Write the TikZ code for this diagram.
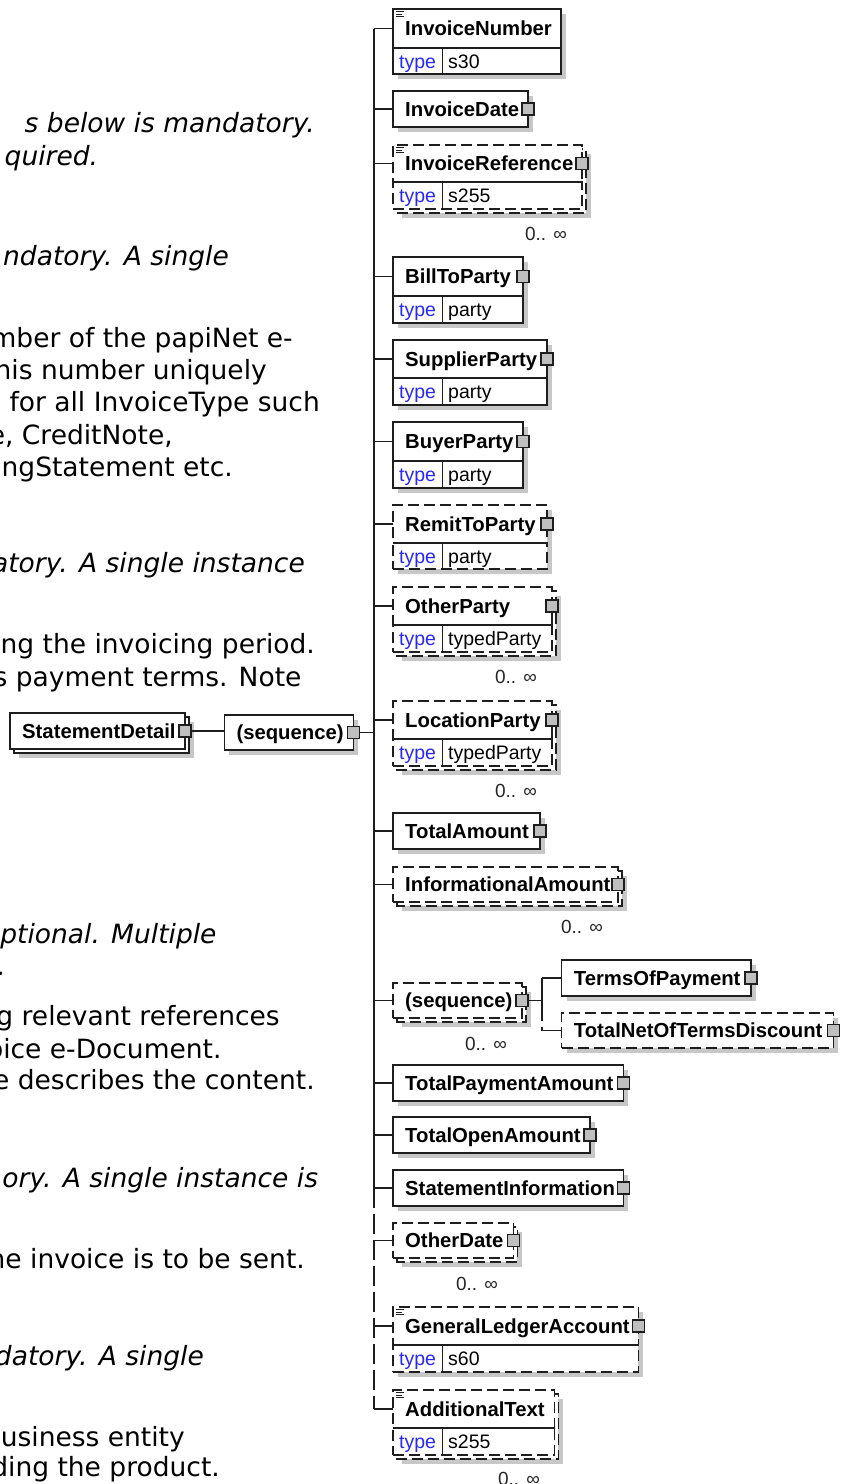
\documentclass[tikz,border=0pt]{standalone}
\usepackage{fontspec}
\setmainfont{Liberation Sans}
\newfontfamily\dvs{DejaVu Sans}[ItalicFont={DejaVu Sans Oblique}]
\definecolor{tblue}{RGB}{40,40,250}
\definecolor{lnc}{RGB}{30,30,30}
\tikzset{
 ln/.style={draw=lnc, line width=1.3pt},
 box/.style={rectangle, draw=lnc, line width=1.3pt, fill=white, inner sep=0pt, outer sep=0pt},
 optbox/.style={box, dash pattern=on 11pt off 5pt},
 backsolid/.style={draw=lnc, line width=1.3pt, fill=white},
 backdash/.style={backsolid, dash pattern=on 11pt off 5pt},
 shd/.style={fill=black!22},
 hdr/.style={font=\fontsize{20.3}{24}\selectfont\bfseries, inner sep=0pt, anchor=base west},
 tlab/.style={font=\fontsize{19.5}{24}\selectfont, text=tblue, inner sep=0pt, anchor=base west},
 tval/.style={font=\fontsize{19.5}{24}\selectfont, text=black, inner sep=0pt, anchor=base west},
 occ/.style={font=\fontsize{19}{24}\selectfont, text=black!85, inner sep=0pt, anchor=base east},
 sq/.style={rectangle, draw=lnc, line width=1.1pt, fill=black!25, minimum size=12pt, inner sep=0pt},
 trunkdash/.style={dash pattern=on 20pt off 6pt},
 ltx/.style={font=\dvs\fontsize{26.5}{32}\selectfont, inner sep=0pt, anchor=base east},
 lit/.style={font=\dvs\itshape\fontsize{26.5}{32}\selectfont, inner sep=0pt, anchor=base east},
 icn/.style={draw=lnc, line width=0.8pt},
}
\newcommand\mkshd[4]{\fill[shd] (#1+5,#2+5) rectangle ++(#3,#4);}
\newcommand\mkback[5]{\draw[#1] (#2+4,#3+4) rectangle ++(#4,#5);}
\newcommand\xelem[7]{%
 \node[#2, minimum width=#5pt, minimum height=#6pt, anchor=north west] (#1) at (#3,#4) {};
 \node[hdr] (#1-t) at ([xshift=12pt,yshift=-7pt]#1.west) {#7};}
\newcommand\xelemT[9]{%
 \node[#2, minimum width=#5pt, minimum height=#6pt, anchor=north west] (#1) at (#3,#4) {};
 \node[#2, minimum width=#5pt, minimum height=#7pt, anchor=north west] (#1-r) at (#1.south west) {};
 \draw[ln] (#1.south west) -- (#1.south east);
 \draw[ln] ([xshift=49.7pt]#1-r.north west) -- ([xshift=49.7pt]#1-r.south west);
 \node[hdr] (#1-t) at ([xshift=12pt,yshift=-7pt]#1.west) {#8};
 \node[tlab] (#1-tl) at ([xshift=6pt,yshift=-7pt]#1-r.west) {type};
 \node[tval] (#1-tv) at ([xshift=55pt,yshift=-7pt]#1-r.west) {#9};}
\newcommand\mksq[1]{\node[sq] (#1-sq) at (#1.east) {};}
\newcommand\mkicon[1]{\draw[icn] ([xshift=3pt,yshift=-2.5pt]#1.north west) -- ++(8pt,0pt)
  ([xshift=3pt,yshift=-5pt]#1.north west) -- ++(6pt,0pt)
  ([xshift=3pt,yshift=-7.5pt]#1.north west) -- ++(8pt,0pt);}
\begin{document}
\begin{tikzpicture}[x=1pt,y=-1pt]
\useasboundingbox (0,0) rectangle (842,1484);
\fill[white] (0,0) rectangle (842,1484);
\begin{scope}
\clip (0,0) rectangle (842,1484);
% left documentation text (cut off at the left edge)
\node[lit] (lt1) at (315,132) {s below is mandatory.};
\node[lit] (lt2) at (98.3,165) {quired.};
\node[lit] (lt3) at (229,265) {ndatory. A single};
\node[ltx] (lt4) at (293,347) {mber of the papiNet e-};
\node[ltx] (lt5) at (267,379) {his number uniquely};
\node[ltx] (lt6) at (320,411) {for all InvoiceType such};
\node[ltx] (lt7) at (173,444) {e, CreditNote,};
\node[ltx] (lt8) at (233,476) {ingStatement etc.};
\node[lit] (lt9) at (305,572) {atory. A single instance};
\node[ltx] (lt10) at (315,653) {ng the invoicing period.};
\node[ltx] (lt11) at (301.7,686) {s payment terms. Note};
\node[lit] (lt12) at (216.7,943) {ptional. Multiple};
\node[lit] (lt13) at (6,975) {t.};
\node[ltx] (lt14) at (280,1025) {g relevant references};
\node[ltx] (lt15) at (221.7,1058) {oice e-Document.};
\node[ltx] (lt16) at (315,1089) {e describes the content.};
\node[lit] (lt17) at (318.3,1187) {ory. A single instance is};
\node[ltx] (lt18) at (305,1268) {he invoice is to be sent.};
\node[lit] (lt19) at (204,1365) {datory. A single};
\node[ltx] (lt20) at (185,1446) {business entity};
\node[ltx] (lt21) at (220,1476) {ding the product.};

% trunk coordinates
\coordinate (tx) at (374,0);
\coordinate (sx) at (542,0);

% root element
\mkshd{14}{717}{175}{36}
\mkback{backsolid}{10}{713}{175}{36}
\xelem{sd}{box}{10}{713}{175}{36}{StatementDetail}
\mksq{sd}
\mkshd{224.3}{715}{129}{35}
\xelem{seq1}{box}{224.3}{715}{129}{35}{(sequence)}
\mksq{seq1}
\draw[ln] (sd-sq.east) -- (sd-sq.east -| seq1.west);
\draw[ln] (seq1-sq.east) -- (tx |- seq1-sq.east);

% 1 InvoiceNumber
\mkshd{393}{9}{168}{65}
\xelemT{invnum}{box}{393}{9}{168}{39}{26}{InvoiceNumber}{s30}
\mkicon{invnum}
% 2 InvoiceDate
\mkshd{393}{91}{135}{36}
\xelem{invdate}{box}{393}{91}{135}{36}{InvoiceDate}
\mksq{invdate}
% 3 InvoiceReference
\mkshd{397}{149}{189}{64}
\mkback{backdash}{393}{145}{189}{64}
\xelemT{invref}{optbox}{393}{145}{189}{37}{27}{InvoiceReference}{s255}
\mkicon{invref}
\mksq{invref}
\node[occ] (invref-o) at (567,240) {0.. ∞};
% 4 BillToParty
\mkshd{393}{257}{130}{66}
\xelemT{bill}{box}{393}{257}{130}{39}{27}{BillToParty}{party}
\mksq{bill}
% 5 SupplierParty
\mkshd{393}{340}{154}{65}
\xelemT{supp}{box}{393}{340}{154}{38}{27}{SupplierParty}{party}
\mksq{supp}
% 6 BuyerParty
\mkshd{393}{422}{130}{66}
\xelemT{buyer}{box}{393}{422}{130}{39}{27}{BuyerParty}{party}
\mksq{buyer}
% 7 RemitToParty
\mkshd{393}{505}{154}{64}
\xelemT{remit}{optbox}{393}{505}{154}{38}{26}{RemitToParty}{party}
\mksq{remit}
% 8 OtherParty
\mkshd{397}{591}{159}{65}
\mkback{backdash}{393}{587}{159}{65}
\xelemT{other}{optbox}{393}{587}{159}{38}{27}{OtherParty}{typedParty}
\mksq{other}
\node[occ] (other-o) at (537,683) {0.. ∞};
% 9 LocationParty
\mkshd{397}{705}{159}{65}
\mkback{backdash}{393}{701}{159}{65}
\xelemT{loc}{optbox}{393}{701}{159}{38}{27}{LocationParty}{typedParty}
\mksq{loc}
\node[occ] (loc-o) at (537,797) {0.. ∞};
% 10 TotalAmount
\mkshd{393}{813}{147}{36}
\xelem{totamt}{box}{393}{813}{147}{36}{TotalAmount}
\mksq{totamt}
% 11 InformationalAmount
\mkshd{397}{871}{225}{35}
\mkback{backdash}{393}{867}{225}{35}
\xelem{infoamt}{optbox}{393}{867}{225}{35}{InformationalAmount}
\mksq{infoamt}
\node[occ] (infoamt-o) at (603,933) {0.. ∞};
% 12 nested sequence
\mkshd{397}{987}{129}{35}
\mkback{backdash}{393}{983}{129}{35}
\xelem{seq2}{optbox}{393}{983}{129}{35}{(sequence)}
\mksq{seq2}
\node[occ] (seq2-o) at (507,1050) {0.. ∞};
\mkshd{561.7}{960}{189.3}{36}
\xelem{terms}{box}{561.7}{960}{189.3}{36}{TermsOfPayment}
\mksq{terms}
\mkshd{561.7}{1013}{271.6}{35}
\xelem{tnotd}{optbox}{561.7}{1013}{271.6}{35}{TotalNetOfTermsDiscount}
\mksq{tnotd}
% 13 TotalPaymentAmount
\mkshd{393}{1065}{230.3}{36}
\xelem{totpay}{box}{393}{1065}{230.3}{36}{TotalPaymentAmount}
\mksq{totpay}
% 14 TotalOpenAmount
\mkshd{393}{1117}{197}{36}
\xelem{totopen}{box}{393}{1117}{197}{36}{TotalOpenAmount}
\mksq{totopen}
% 15 StatementInformation
\mkshd{393}{1170}{230.3}{36}
\xelem{stinfo}{box}{393}{1170}{230.3}{36}{StatementInformation}
\mksq{stinfo}
% 16 OtherDate
\mkshd{397}{1227}{120.3}{35}
\mkback{backdash}{393}{1223}{120.3}{35}
\xelem{odate}{optbox}{393}{1223}{120.3}{35}{OtherDate}
\mksq{odate}
\node[occ] (odate-o) at (498,1290) {0.. ∞};
% 17 GeneralLedgerAccount
\mkshd{393}{1307}{245.3}{65}
\xelemT{gla}{optbox}{393}{1307}{245.3}{38}{27}{GeneralLedgerAccount}{s60}
\mkicon{gla}
\mksq{gla}
% 18 AdditionalText
\mkshd{397}{1394}{161.3}{65}
\mkback{backdash}{393}{1390}{161.3}{65}
\xelemT{addtext}{optbox}{393}{1390}{161.3}{38}{27}{AdditionalText}{s255}
\mkicon{addtext}
\node[occ] (addtext-o) at (540,1485) {0.. ∞};

% trunk and branches
\draw[ln] (tx |- invnum.west) -- (tx |- stinfo.west);
\draw[ln, trunkdash] (tx |- stinfo.west) -- (tx |- addtext.west);
\foreach \n in {invnum,invdate,invref,bill,supp,buyer,remit,other,loc,totamt,infoamt,seq2,totpay,totopen,stinfo,odate,gla,addtext}
  {\draw[ln] (tx |- \n.west) -- (\n.west);}
% nested sequence branches
\draw[ln] (seq2-sq.east) -- (sx |- seq2-sq.east);
\draw[ln] (sx |- terms.west) -- (sx |- seq2-sq.east);
\draw[ln, trunkdash] (sx |- seq2-sq.east) -- (sx |- tnotd.west);
\draw[ln] (sx |- terms.west) -- (terms.west);
\draw[ln] (sx |- tnotd.west) -- (tnotd.west);
\end{scope}
\end{tikzpicture}
\end{document}
